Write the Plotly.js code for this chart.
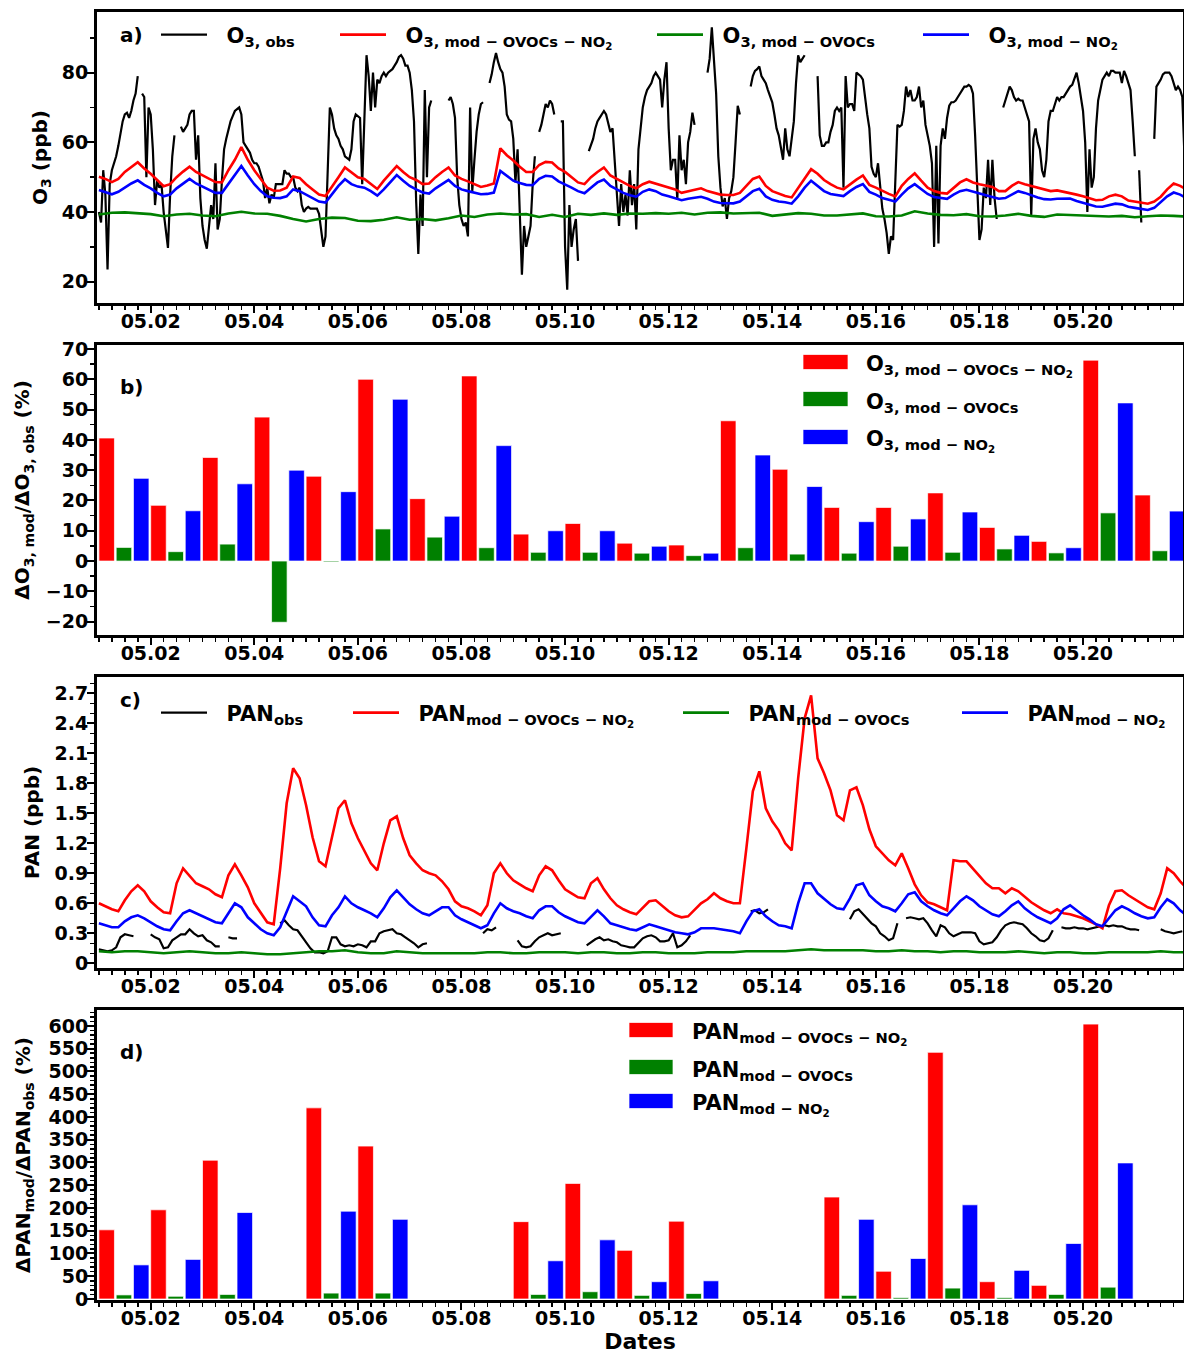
<!DOCTYPE html>
<html><head><meta charset="utf-8">
<script src="https://cdn.plot.ly/plotly-3.0.1.min.js"></script>
<style>body{margin:0;background:#fff}#chart{width:1184px;height:1355px}</style>
</head><body><div id="chart"></div>
<script>
// ---------------- DATA ----------------
// O3 observed, hourly from 05.01 00:00 (ppb), null = missing
const o3Obs = [
 40,37,52,45,23.5,48,52,54,56,59,63,66,68,68.5,67,69,72,74,79,null,74,73,50,70,
 68,58,42,49,47,48,40,34,29.7,45,56,62,null,null,64.5,63,64,65,68,69,69,55,62,44,
 36,32,29.5,35,42,38,54,35,38,49,58,61,64,66,67.5,69,69.5,70,68,60,59,58,57,55,
 54,54,53,51,49,44,47,42.5,45,44,48,48,48,48,52,51,51,50,50,47,46,47,42,40,
 41,41.5,41,41,41,41,39.5,34,30,33,52,70,68,64,62,61,59,58,56,55.5,55,58,66,68,
 67.5,67,48,69,85,79,69,80,70,78,77,79,80,79,80,80.5,81,82,83,84.5,85,84,82,82,
 80,75,66,43,28,45,36,75,50,70,72,null,null,null,null,null,null,null,72,73,71,67,50,42,
 38,36,37,33,70,46,55,63,68,71,71.5,null,null,77,79.5,83,85.6,83,81,80,76,68,66.5,66,
 61,48.5,58,40,22,36,30,33,36,48,56,null,63,65,68,71,70,72,71,68,null,null,66,66,
 30,17.7,42,30,35,38,26,null,26,null,null,57.5,59,61,64,66,67,68,69,68,65,63,64,55,
 43,36,48,40,45,39,52,42,48,35,58,64,70,73,75,76,77,79,80,79,78,70,78,83,
 64,52,55,55,43.5,62,52,55,48,60,63,68.5,65,null,null,null,null,null,80,84,93,84,74,56,
 47,41.6,44,38,44,46,50,60,70.5,68,null,null,null,null,76,79,80.5,81,81.8,79,78,77,75,73,
 71.5,68,64,62,58,55,64,58,56,62,66,77,85,83,84,85,null,null,null,null,null,79,62,59,
 59,60,60,63,65,69,70,69,70,47,79,70,71,71,69,80,79.5,79,78,72,68,64,53,51,
 50,54,48,41,38,34,28,33,32,50,65,64.5,65,69,76,73,75,72,72,73,76,70,72,65,
 62,59,54,30,59,31,59,64,61,67,70.5,71.5,71.5,72,73,74,75,76,76,76.5,76,74,62,46,
 32,35,47,44,55,42,55,44,38,null,null,70,72,74,76,75,73,72,72.5,72,72,70,68,66,
 39,61,64,60,58,52,50,55,66,69,69,71,73,72,73,73,74,75,76,76.5,78,80,77,73,
 69,60,40,58,47,50,64,72,75,78,79,80,79,80.5,80.5,80,80,80,77,80.5,79,77,75,66,
 56,null,52,37,null,null,null,null,null,61,76,77,78,79.5,80,80,80,79,77,75,76,75,73,56
];
// O3 model, every 3 h
const o3ModOvocsNo2 = [
 50.1,49.5,48.6,49.5,51.5,53.0,54.3,52.5,
 51.0,49.2,47.4,48.0,50.0,51.6,53.0,51.5,
 50.5,49.5,48.6,48.5,52.0,55.0,58.6,55.0,
 52.0,49.5,47.0,46.1,46.2,47.0,50.2,49.8,
 48.0,46.5,45.0,44.6,47.5,50.0,52.8,51.5,
 50.0,49.5,48.0,46.6,49.0,51.0,53.2,51.5,
 50.0,49.2,48.0,48.2,50.0,51.5,52.8,50.5,
 49.5,48.8,48.0,47.2,47.6,48.2,58.3,56.3,
 54.8,53.0,51.5,51.5,53.5,54.4,54.2,52.5,
 51.5,50.0,48.5,48.0,50.0,51.5,52.8,50.5,
 49.5,48.5,47.5,46.8,48.0,48.7,48.2,47.7,
 47.0,46.5,45.5,46.0,46.5,46.8,46.0,45.5,
 45.0,44.9,44.9,45.5,47.5,49.5,50.2,47.5,
 46.0,45.2,44.6,44.2,47.0,49.5,52.3,51.0,
 49.2,48.0,47.0,46.5,48.0,49.3,50.5,47.8,
 47.0,46.0,45.2,44.5,47.5,49.5,51.1,49.0,
 47.0,46.0,45.5,45.3,46.8,48.5,49.4,48.5,
 48.0,47.6,47.2,46.0,46.0,47.5,48.6,48.0,
 47.5,47.0,46.3,46.0,46.2,45.8,45.6,45.0,
 44.5,44.0,43.4,43.5,44.5,45.0,44.5,43.3,
 43.0,42.6,42.4,43.0,44.4,46.5,48.2,47.5,
 46.4
];
const o3ModNo2 = [
 46.3,45.8,45.1,45.8,47.0,48.2,49.1,47.8,
 46.8,45.5,44.5,45.0,46.8,48.2,49.5,48.2,
 47.3,46.3,45.5,45.5,48.0,50.5,53.2,50.5,
 48.0,46.0,44.5,44.1,44.0,44.5,46.5,46.0,
 45.0,44.0,43.0,42.7,45.0,47.5,49.4,48.0,
 47.3,47.0,46.0,44.7,46.5,48.5,50.6,49.0,
 47.5,46.5,45.6,45.3,46.8,48.0,49.2,47.5,
 46.5,46.0,45.5,45.1,45.2,45.6,51.8,50.5,
 49.0,48.3,47.8,47.7,49.5,50.4,50.2,48.8,
 48.0,47.0,46.0,45.4,47.0,48.5,49.3,47.5,
 46.5,45.5,44.8,44.4,45.8,46.5,46.0,45.0,
 44.5,44.0,43.4,43.8,44.2,44.4,43.8,43.0,
 42.6,42.5,42.5,43.0,44.5,46.0,46.7,44.5,
 43.5,43.0,42.8,42.4,44.5,47.0,49.0,47.5,
 46.0,45.2,44.8,44.6,46.0,47.2,48.0,45.8,
 45.0,44.0,43.5,43.0,45.0,46.8,48.0,46.5,
 45.2,44.3,44.0,43.8,45.0,46.0,46.4,45.8,
 45.2,44.8,44.3,43.8,44.0,45.0,46.0,45.5,
 44.8,44.2,43.7,43.6,43.8,43.9,43.9,43.2,
 42.6,42.0,41.6,41.5,42.0,42.4,42.2,41.5,
 41.2,40.9,40.6,41.2,43.0,44.5,45.6,45.0,
 44.0
];
// every 6 h
const o3ModOvocs = [
 39.3,39.8,39.9,39.6, 39.4,38.8,39.3,39.5, 39.0,38.8,39.6,40.1, 39.6,39.5,38.9,38.0,
 37.3,38.0,38.4,38.3, 37.5,37.4,37.8,38.5, 37.8,38.0,37.6,38.2, 39.0,38.6,39.3,39.6,
 39.3,39.4,38.6,39.2, 38.6,39.5,39.2,39.6, 39.2,39.6,39.5,39.7, 39.5,39.8,39.3,39.8,
 39.9,39.6,39.6,39.8, 38.9,39.3,39.7,39.5, 39.0,39.0,39.4,39.6, 38.8,38.7,39.0,40.2,
 39.6,39.2,39.1,39.4, 38.8,38.7,39.0,39.5, 38.9,38.6,39.3,39.2, 38.9,39.0,38.7,38.9,
 38.5,38.8,39.0,38.9, 38.7
];
// PAN observed, every 2 h (ppb)
const panObs = [
 0.14,0.13,0.12,0.13,0.16,0.26,0.29,0.28,0.27,null,null,null,
 0.29,0.26,0.24,0.15,0.16,0.23,0.26,0.29,0.29,0.34,0.30,0.27,
 0.28,0.23,0.21,0.17,0.17,null,0.26,0.25,0.25,null,null,null,
 null,null,null,null,null,null,0.40,0.43,0.38,0.34,0.33,0.27,
 0.22,0.15,0.11,0.11,0.10,0.12,0.26,0.26,0.19,0.17,0.18,0.17,
 0.19,0.18,0.16,0.22,0.22,0.30,0.32,0.33,0.34,0.30,0.29,0.26,
 0.23,0.20,0.16,0.19,0.20,null,null,null,null,null,null,null,
 null,null,null,null,null,0.30,0.34,0.33,0.36,null,null,null,
 null,0.23,0.17,0.16,0.17,0.22,0.26,0.28,0.30,0.28,0.29,0.30,
 null,null,null,null,null,0.18,0.21,0.24,0.26,0.23,0.24,0.22,
 0.21,0.18,0.17,0.16,0.16,0.20,0.25,0.27,0.28,0.26,0.22,0.22,
 0.23,0.30,0.16,0.18,0.22,0.28,null,null,null,null,null,null,
 null,null,null,null,null,null,null,0.52,0.53,0.50,0.51,0.54,
 null,null,null,null,null,null,null,null,null,null,null,null,
 null,null,null,null,null,null,0.44,0.52,0.54,0.49,0.45,0.40,
 0.37,0.30,0.27,0.23,0.25,0.40,null,0.45,0.46,0.45,0.44,0.45,
 0.40,0.33,0.27,0.38,0.36,0.30,0.27,0.29,0.31,0.31,0.31,0.30,
 0.22,0.19,0.20,0.21,0.26,0.33,0.38,0.40,0.41,0.40,0.39,0.35,
 0.30,0.27,0.23,0.22,0.25,0.33,null,0.36,0.35,0.35,0.36,0.35,
 0.35,0.34,0.35,0.36,0.37,0.38,0.37,0.38,0.37,0.37,0.35,0.34,
 0.34,0.33,null,null,null,null,0.34,0.32,0.31,0.30,0.31,0.32
];
// PAN model, every 3 h
const panModOvocsNo2 = [
 0.60,0.57,0.54,0.52,0.63,0.72,0.78,0.72,
 0.62,0.56,0.51,0.50,0.80,0.95,0.88,0.80,
 0.77,0.74,0.69,0.66,0.88,0.99,0.88,0.76,
 0.60,0.50,0.41,0.39,0.95,1.60,1.95,1.85,
 1.58,1.26,1.02,0.97,1.27,1.55,1.63,1.40,
 1.25,1.13,1.00,0.93,1.20,1.43,1.47,1.25,
 1.08,1.00,0.93,0.90,0.88,0.82,0.74,0.62,
 0.57,0.55,0.52,0.48,0.58,0.90,1.00,0.90,
 0.83,0.79,0.75,0.72,0.88,0.97,0.93,0.83,
 0.74,0.70,0.66,0.65,0.80,0.85,0.74,0.65,
 0.58,0.54,0.51,0.49,0.55,0.62,0.63,0.57,
 0.52,0.48,0.46,0.47,0.54,0.60,0.64,0.70,
 0.65,0.62,0.60,0.60,1.15,1.72,1.92,1.55,
 1.42,1.33,1.20,1.13,1.85,2.45,2.68,2.05,
 1.90,1.73,1.48,1.43,1.73,1.76,1.58,1.34,
 1.17,1.10,1.03,0.98,1.10,0.95,0.79,0.68,
 0.61,0.59,0.56,0.53,1.03,1.02,1.02,0.95,
 0.87,0.80,0.75,0.75,0.70,0.75,0.72,0.66,
 0.61,0.57,0.53,0.50,0.54,0.50,0.49,0.47,
 0.45,0.42,0.39,0.35,0.58,0.72,0.73,0.68,
 0.64,0.60,0.56,0.54,0.70,0.95,0.90,0.82,
 0.75
];
const panModNo2 = [
 0.40,0.38,0.36,0.36,0.42,0.46,0.48,0.45,
 0.41,0.37,0.34,0.33,0.42,0.50,0.53,0.50,
 0.47,0.44,0.41,0.40,0.50,0.60,0.56,0.46,
 0.40,0.34,0.30,0.28,0.36,0.52,0.67,0.62,
 0.57,0.46,0.38,0.37,0.48,0.56,0.67,0.60,
 0.56,0.53,0.50,0.46,0.55,0.66,0.73,0.66,
 0.59,0.54,0.50,0.48,0.52,0.56,0.56,0.48,
 0.44,0.41,0.38,0.35,0.38,0.50,0.60,0.55,
 0.52,0.50,0.47,0.45,0.53,0.57,0.57,0.51,
 0.47,0.44,0.41,0.40,0.47,0.53,0.47,0.40,
 0.38,0.36,0.34,0.33,0.36,0.39,0.37,0.35,
 0.33,0.31,0.30,0.29,0.31,0.35,0.35,0.35,
 0.34,0.33,0.32,0.30,0.42,0.52,0.54,0.47,
 0.42,0.38,0.37,0.35,0.60,0.80,0.80,0.70,
 0.64,0.59,0.55,0.54,0.65,0.78,0.80,0.68,
 0.62,0.57,0.55,0.52,0.60,0.69,0.71,0.62,
 0.57,0.53,0.50,0.48,0.55,0.62,0.67,0.63,
 0.57,0.53,0.49,0.47,0.52,0.58,0.62,0.55,
 0.50,0.46,0.43,0.40,0.45,0.54,0.58,0.53,
 0.48,0.44,0.39,0.37,0.45,0.53,0.57,0.54,
 0.50,0.47,0.45,0.46,0.56,0.64,0.60,0.53,
 0.48
];
// every 6 h
const panModOvocs = [
 0.12,0.11,0.12,0.12, 0.11,0.10,0.11,0.12, 0.11,0.10,0.10,0.11, 0.10,0.09,0.09,0.10,
 0.11,0.12,0.12,0.13, 0.11,0.10,0.10,0.12, 0.11,0.10,0.10,0.10, 0.10,0.10,0.11,0.11,
 0.10,0.10,0.11,0.11, 0.11,0.10,0.11,0.11, 0.10,0.10,0.11,0.11, 0.10,0.10,0.10,0.11,
 0.11,0.11,0.12,0.12, 0.12,0.12,0.13,0.14, 0.13,0.13,0.13,0.13, 0.12,0.12,0.13,0.12,
 0.12,0.11,0.12,0.12, 0.11,0.11,0.11,0.12, 0.11,0.10,0.11,0.11, 0.10,0.10,0.11,0.11,
 0.11,0.11,0.12,0.11, 0.11
];
// Daily ratios (%), 05.01 ... 05.21
const dO3ModOvocsNo2 = [40.6,18.4,34.2,47.5,28.0,60.0,20.6,61.1,8.9,12.4,5.9,5.3,46.3,30.3,17.7,17.7,22.5,11.1,6.5,66.3,21.8];
const dO3ModOvocs    = [4.5,3.1,5.6,-20.2,-0.3,10.6,7.9,4.4,2.9,2.9,2.6,1.8,4.4,2.3,2.6,4.9,2.9,4.0,2.7,15.9,3.4];
const dO3ModNo2      = [27.3,16.6,25.5,30.0,22.9,53.4,14.8,38.1,10.0,10.0,4.9,2.6,35.0,24.6,13.0,13.9,16.2,8.5,4.4,52.2,16.5];
const dPanModOvocsNo2 = [152,196,305,null,420,336,null,null,170,254,107,171,null,null,224,61,542,38,30,604,null];
const dPanModOvocs    = [9,6,10,null,13,13,null,null,10,16,8,12,null,null,8,3,24,3,10,26,null];
const dPanModNo2      = [75,87,190,null,193,175,null,null,84,130,38,40,null,null,175,89,207,63,122,299,null];

// ---------------- HELPERS ----------------
const T0 = Date.UTC(2019, 4, 1), HOUR = 3600000, DAY = 24 * HOUR;
const iso = ms => new Date(ms).toISOString().slice(0, 19).replace('T', ' ');
const times = (stepH, n) => Array.from({length: n}, (_, i) => iso(T0 + i * stepH * HOUR));
const barX = k => Array.from({length: 21}, (_, i) => iso(T0 + i * DAY + k * 8 * HOUR));

const F = 'DejaVu Sans, sans-serif';
const RED = '#ff0000', GREEN = '#008000', BLUE = '#0000ff', BLACK = '#000000';
const bold = (s) => ({family: F, size: s, weight: 'bold', color: '#000'});

const M = '\u2212';
const NB = '\u00a0\u00a0';

function line(x, y, color, w, xa, ya, name, lg) {
  return {type: 'scatter', mode: 'lines', x: x, y: y, xaxis: xa, yaxis: ya, name: name,
          line: {color: color, width: w}, connectgaps: false, legend: lg, hoverinfo: 'skip'};
}
function bars(k, y, color, xa, ya) {
  return {type: 'bar', x: barX(k), y: y, xaxis: xa, yaxis: ya, width: 0.3 * DAY, offset: 0,
          marker: {color: color, line: {color: 'rgba(255,255,255,0.7)', width: 1}},
          showlegend: false, hoverinfo: 'skip'};
}

const nA = 'O<sub>3, obs</sub>';
const nB = 'O<sub>3, mod ' + M + ' OVOCs ' + M + ' NO<sub>2</sub></sub>';
const nC = 'O<sub>3, mod ' + M + ' OVOCs</sub>';
const nD = 'O<sub>3, mod ' + M + ' NO<sub>2</sub></sub>';
const pA = 'PAN<sub>obs</sub>';
const pB = 'PAN<sub>mod ' + M + ' OVOCs ' + M + ' NO<sub>2</sub></sub>';
const pC = 'PAN<sub>mod ' + M + ' OVOCs</sub>';
const pD = 'PAN<sub>mod ' + M + ' NO<sub>2</sub></sub>';

const LW = 2.6, OW = 2.2;
const data = [
  line(times(1, o3Obs.length), o3Obs, BLACK, OW, 'x', 'y', NB + nA, 'legend'),
  line(times(3, o3ModOvocsNo2.length), o3ModOvocsNo2, RED, LW, 'x', 'y', NB + nB, 'legend2'),
  line(times(6, o3ModOvocs.length), o3ModOvocs, GREEN, LW, 'x', 'y', NB + nC, 'legend3'),
  line(times(3, o3ModNo2.length), o3ModNo2, BLUE, LW, 'x', 'y', NB + nD, 'legend4'),
  bars(0, dO3ModOvocsNo2, RED, 'x2', 'y2'),
  bars(1, dO3ModOvocs, GREEN, 'x2', 'y2'),
  bars(2, dO3ModNo2, BLUE, 'x2', 'y2'),
  line(times(2, panObs.length), panObs, BLACK, OW, 'x3', 'y3', NB + pA, 'legend5'),
  line(times(3, panModOvocsNo2.length), panModOvocsNo2, RED, LW, 'x3', 'y3', NB + pB, 'legend6'),
  line(times(6, panModOvocs.length), panModOvocs, GREEN, LW, 'x3', 'y3', NB + pC, 'legend7'),
  line(times(3, panModNo2.length), panModNo2, BLUE, LW, 'x3', 'y3', NB + pD, 'legend8'),
  bars(0, dPanModOvocsNo2, RED, 'x4', 'y4'),
  bars(1, dPanModOvocs, GREEN, 'x4', 'y4'),
  bars(2, dPanModNo2, BLUE, 'x4', 'y4')
];

// ---------------- LAYOUT ----------------
const L = 97, R = 1, TOP = 12, BOT = 55, W = 1184, H = 1355;
const PW = W - L - R, PH = H - TOP - BOT;
const px = v => (v - L) / PW;
const py = v => (H - BOT - v) / PH;
const dom = (top, bottom) => [py(bottom), py(top)];

const xRange = [iso(T0 - 53 * 60000), iso(T0 + 20.93 * DAY)];
function xax(anchor, extra) {
  return Object.assign({
    type: 'date', range: xRange, anchor: anchor, tickformat: '%m.%d',
    tick0: iso(T0 + DAY), dtick: 2 * DAY, ticks: 'outside', ticklen: 7, tickwidth: 2,
    tickcolor: '#000', showline: true, linewidth: 3, linecolor: '#000', mirror: true,
    showgrid: false, zeroline: false, tickfont: bold(19), ticklabelstandoff: -8,
    minor: {dtick: 6 * HOUR, ticks: 'outside', ticklen: 4, tickwidth: 1.5, tickcolor: '#000', showgrid: false}
  }, extra || {});
}
function yax(anchor, domain, range, dtick, minor, title, standoff) {
  return {
    anchor: anchor, domain: domain, range: range, dtick: dtick, ticks: 'outside', ticklen: 7,
    tickwidth: 2, tickcolor: '#000', showline: true, linewidth: 3, linecolor: '#000',
    mirror: true, showgrid: false, zeroline: false, tickfont: bold(19), ticklabelstandoff: -5,
    minor: {dtick: minor, ticks: 'outside', ticklen: 4, tickwidth: 1.5, tickcolor: '#000', showgrid: false},
    title: {text: title, font: bold(20), standoff: standoff}
  };
}
function lg(xpx, ypx) {
  return {x: px(xpx), y: py(ypx), xanchor: 'left', yanchor: 'middle', orientation: 'h',
          bgcolor: 'rgba(0,0,0,0)', borderwidth: 0, itemwidth: 46, font: bold(21),
          itemclick: false, itemdoubleclick: false};
}
function patch(x0, x1, yc, color) {
  return {type: 'rect', xref: 'paper', yref: 'paper', x0: px(x0), x1: px(x1),
          y0: py(yc + 7.5), y1: py(yc - 7.5), fillcolor: color,
          line: {color: 'rgba(255,255,255,0.7)', width: 1}};
}
function label(xpx, ypx, text, size) {
  return {xref: 'paper', yref: 'paper', x: px(xpx), y: py(ypx), xanchor: 'left', yanchor: 'middle',
          text: text, showarrow: false, font: bold(size || 21)};
}

const layout = {
  width: W, height: H, paper_bgcolor: '#fff', plot_bgcolor: '#fff',
  margin: {l: L, r: R, t: TOP, b: BOT}, barmode: 'overlay', showlegend: true,
  font: {family: F, color: '#000'},
  xaxis: xax('y'), xaxis2: xax('y2'), xaxis3: xax('y3'),
  xaxis4: xax('y4', {title: {text: 'Dates', font: bold(22), standoff: 2}}),
  yaxis: yax('x', dom(12, 303), [13.9, 97.4], 20, 10, 'O<sub>3</sub> (ppb)', 9),
  yaxis2: yax('x2', dom(345, 635), [-24.4, 71.3], 10, 5, '\u0394O<sub>3, mod</sub>/\u0394O<sub>3, obs</sub> (%)', 11),
  yaxis3: yax('x3', dom(677, 968), [-0.047, 2.863], 0.3, 0.1, 'PAN (ppb)', 10),
  yaxis4: yax('x4', dom(1010, 1300), [-2.2, 635], 50, 10, '\u0394PAN<sub>mod</sub>/\u0394PAN<sub>obs</sub> (%)', 13),
  legend: lg(156, 35), legend2: lg(335, 35), legend3: lg(652, 35), legend4: lg(918, 35),
  legend5: lg(156, 713), legend6: lg(348, 713), legend7: lg(678, 713), legend8: lg(957, 713),
  shapes: [
    patch(803, 848, 362, RED), patch(803, 848, 399, GREEN), patch(803, 848, 437, BLUE),
    patch(629, 673, 1030, RED), patch(629, 673, 1067, GREEN), patch(629, 673, 1101, BLUE)
  ],
  annotations: [
    label(118, 35, 'a)', 20), label(118, 387, 'b)', 20), label(118, 700, 'c)', 20), label(118, 1052, 'd)', 20),
    label(864, 366, nB), label(864, 403, nC), label(864, 441, nD),
    label(690, 1034, pB), label(690, 1071, pC), label(690, 1105, pD)
  ]
};

Plotly.newPlot('chart', data, layout, {staticPlot: true, displayModeBar: false});
</script>
</body></html>
